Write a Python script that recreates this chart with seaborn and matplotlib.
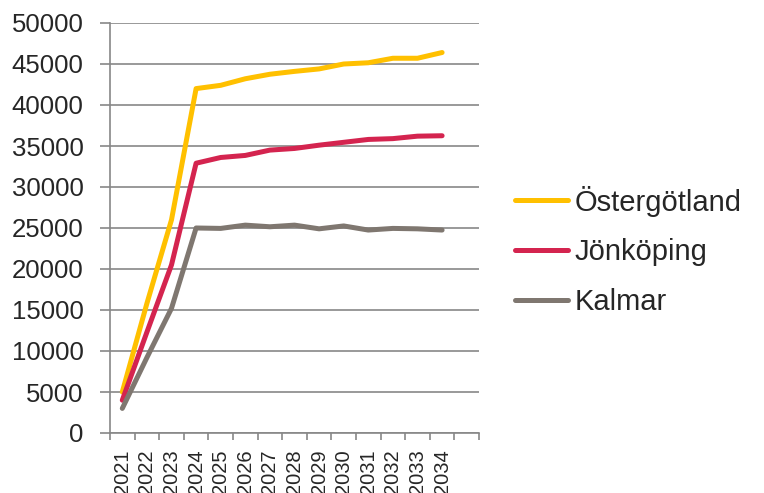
import pandas as pd
import matplotlib.pyplot as plt
import seaborn as sns

# Values
years = list(range(2021, 2035))
ostergotland = [5000, 15800, 26000, 42000, 42400, 43200, 43750, 44100, 44400,
                45000, 45150, 45700, 45700, 46400]
jonkoping = [4000, 12300, 20500, 32900, 33600, 33850, 34500, 34700, 35100,
             35450, 35800, 35900, 36200, 36250]
kalmar = [3000, 9200, 15200, 25000, 24950, 25350, 25150, 25350, 24900,
          25250, 24750, 24950, 24900, 24750]
regions = ["Östergötland", "Jönköping", "Kalmar"]
colors = ["#FFC000", "#D4244F", "#7F7770"]

df = pd.DataFrame({"År": years, "Östergötland": ostergotland,
                   "Jönköping": jonkoping, "Kalmar": kalmar})
long_df = df.melt(id_vars="År", var_name="Län", value_name="Antal")

sns.set_style("white")
plt.rcParams["font.family"] = ["Liberation Sans", "DejaVu Sans"]
plt.rcParams["lines.solid_capstyle"] = "round"

fig = plt.figure(figsize=(7.64, 4.93), dpi=100)
ax = fig.add_axes([110 / 764, 1 - 433 / 493, 369 / 764, 410 / 493])

sns.lineplot(data=long_df, x="År", y="Antal", hue="Län", hue_order=regions,
             palette=colors, linewidth=3.6, ax=ax, legend=True)

grid_c = "#878787"
ax.set_ylim(0, 50000)
ax.set_yticks(range(0, 50001, 5000))
ax.yaxis.grid(True, color=grid_c, linewidth=1.2)
ax.set_axisbelow(True)

ax.set_xlim(2020.5, 2035.5)
ax.set_xticks(years)
ax.set_xticklabels([str(y) for y in years], rotation=90)
ax.set_xticks([y + 0.5 for y in range(2020, 2036)], minor=True)
ax.tick_params(axis="x", which="major", length=0, pad=12, labelsize=14.5)
ax.tick_params(axis="x", which="minor", length=5, width=1.2, color=grid_c)
ax.tick_params(axis="y", length=7, width=1.2, color=grid_c, pad=12, labelsize=18.5)
ax.tick_params(axis="both", direction="out")
ax.xaxis.set_ticks_position("bottom")
ax.yaxis.set_ticks_position("left")

for side in ["top", "right"]:
    ax.spines[side].set_visible(False)
for side in ["left", "bottom"]:
    ax.spines[side].set_color(grid_c)
    ax.spines[side].set_linewidth(1.2)

ax.set_xlabel("")
ax.set_ylabel("")

ax.legend(loc="center left", bbox_to_anchor=(515 / 764, 1 - 251 / 493),
          bbox_transform=fig.transFigure, frameon=False, fontsize=21,
          handlelength=1.8, handletextpad=0.25, labelspacing=0.75,
          borderpad=0, borderaxespad=0)

fig.savefig("out.png", dpi=100)
